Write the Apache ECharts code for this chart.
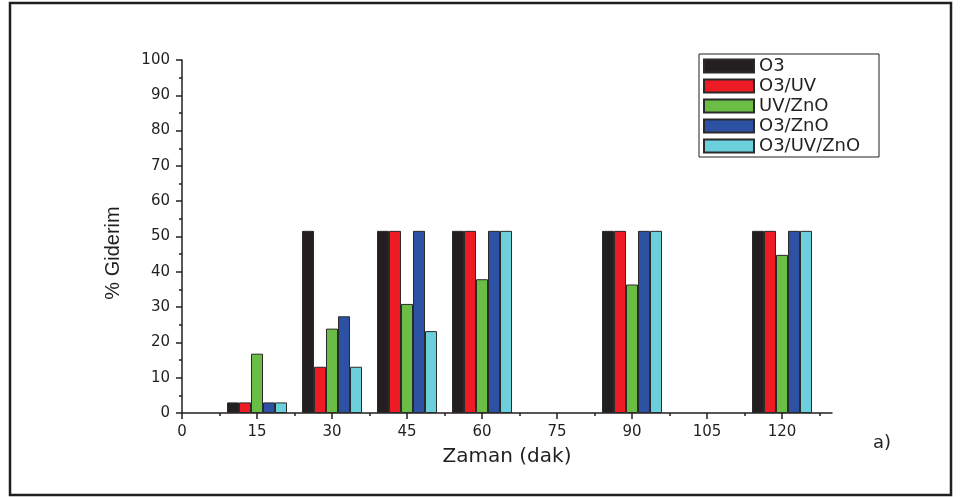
<!DOCTYPE html>
<html>
<head>
<meta charset="utf-8">
<script src="https://cdn.jsdelivr.net/npm/echarts@6/dist/echarts.min.js"></script>
<style>html,body{margin:0;padding:0;background:#fff}#c{width:962px;height:497px}</style>
</head>
<body>
<div id="c"></div>
<script>
const times = [15, 30, 45, 60, 90, 120];
const o3 = [3.0, 51.6, 51.6, 51.6, 51.6, 51.6];
const o3uv = [3.0, 13.1, 51.6, 51.6, 51.6, 51.6];
const uvzno = [16.8, 23.9, 30.9, 37.9, 36.4, 44.8];
const o3zno = [3.0, 27.4, 51.6, 51.6, 51.6, 51.6];
const o3uvzno = [3.0, 13.1, 23.2, 51.6, 51.6, 51.6];
const seriesNames = ['O3', 'O3/UV', 'UV/ZnO', 'O3/ZnO', 'O3/UV/ZnO'];
const seriesValues = [o3, o3uv, uvzno, o3zno, o3uvzno];
const colors = ['#231f20', '#ed1c24', '#6abd45', '#2e52a3', '#6ccfdc'];
const xTicks = [0, 15, 30, 45, 60, 75, 90, 105, 120];
const xMinorTicks = [7.5, 22.5, 37.5, 52.5, 67.5, 82.5, 97.5, 112.5, 127.5];

const ink = '#231f20';
const chart = echarts.init(document.getElementById('c'), null, {renderer: 'canvas'});
chart.setOption({
  animation: false,
  backgroundColor: '#fff',
  grid: {left: 182, right: 130, top: 60, bottom: 84, containLabel: false},
  legend: {
    orient: 'vertical',
    left: 699, top: 54,
    padding: [3, 4, 2, 4],
    itemGap: 2,
    itemWidth: 50, itemHeight: 13,
    borderColor: ink, borderWidth: 1,
    icon: 'rect',
    data: seriesNames,
    textStyle: {fontFamily: 'DejaVu Sans', fontSize: 18, color: ink, width: 116, lineHeight: 18}
  },
  xAxis: [{
    type: 'value', min: 0, max: 130, interval: 15, position: 'bottom',
    axisLine: {show: true, onZero: false, lineStyle: {color: ink, width: 1.5}},
    axisTick: {show: true, length: 6, customValues: xTicks, lineStyle: {color: ink, width: 1.5}},
    axisLabel: {customValues: xTicks, margin: 12, fontFamily: 'DejaVu Sans', fontSize: 15, color: ink},
    splitLine: {show: false},
    name: 'Zaman (dak)', nameLocation: 'middle', nameGap: 34,
    nameTextStyle: {fontFamily: 'DejaVu Sans', fontSize: 20, color: ink}
  }, {
    type: 'value', min: 0, max: 130, position: 'bottom',
    axisLine: {show: false},
    axisTick: {show: true, length: 3, customValues: xMinorTicks, lineStyle: {color: ink, width: 1.5}},
    axisLabel: {show: false},
    splitLine: {show: false}
  }],
  yAxis: {
    type: 'value', min: 0, max: 100, interval: 10,
    axisLine: {show: true, lineStyle: {color: ink, width: 1.5}},
    axisTick: {show: true, length: 6, lineStyle: {color: ink, width: 1.5}},
    minorTick: {show: true, splitNumber: 2, length: 3, lineStyle: {color: ink, width: 1.5}},
    axisLabel: {margin: 12, fontFamily: 'DejaVu Sans', fontSize: 15, color: ink},
    splitLine: {show: false}
  },
  graphic: [
    {type: 'rect', shape: {x: 10, y: 3, width: 941, height: 492}, style: {fill: 'none', stroke: ink, lineWidth: 2.5}, silent: true},
    {type: 'text', x: 113, y: 253, rotation: Math.PI / 2,
      style: {text: '% Giderim', fontFamily: 'Liberation Sans', fontSize: 20, fill: ink, align: 'center', verticalAlign: 'middle'}},
    {type: 'text', x: 873, y: 443,
      style: {text: 'a)', fontFamily: 'DejaVu Sans', fontSize: 18, fill: ink, align: 'left', verticalAlign: 'middle'}}
  ],
  series: seriesNames.map((name, i) => ({
    name: name,
    type: 'bar',
    xAxisIndex: 0,
    barGap: '0%',
    barCategoryGap: '20%',
    itemStyle: {color: colors[i], borderColor: '#2a2a2a', borderWidth: 1},
    data: times.map((t, j) => [t, seriesValues[i][j]])
  }))
});
</script>
</body>
</html>
